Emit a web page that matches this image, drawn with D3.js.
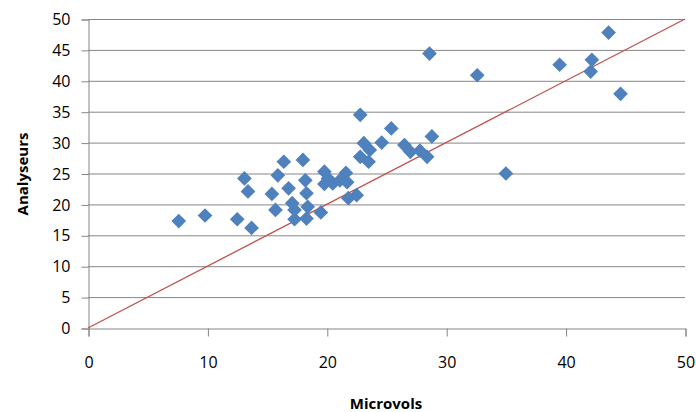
<!DOCTYPE html>
<html>
<head>
<meta charset="utf-8">
<script src="https://cdn.jsdelivr.net/npm/d3@7"></script>
<style>
  body { margin: 0; background: #fff; }
  text { font-family: "Open Sans", "Liberation Sans", sans-serif; fill: #000; }
</style>
</head>
<body>
<div id="chart"></div>
<script>
var width = 696;
var height = 412;
var margin = { top: 19, right: 11, bottom: 84, left: 88 };

// Microvols (x) vs Analyseurs (y)
var microvols = [7.6, 9.8, 12.5, 13.7, 13.1, 13.4, 15.4, 15.7, 15.9, 16.4,
                 16.8, 17.1, 17.3, 17.3, 18.0, 18.2, 18.3, 18.4, 18.3, 19.5,
                 19.8, 20.1, 19.8, 20.5, 21.1, 21.6, 21.7, 21.8, 22.5, 22.8,
                 25.4, 28.8, 23.1, 24.6, 26.5, 27.0, 27.8, 28.4, 23.6, 22.8,
                 23.5, 28.6, 32.6, 39.5, 42.2, 42.1, 43.6, 44.6, 35.0];
var analyseurs = [17.3, 18.2, 17.6, 16.2, 24.2, 22.1, 21.7, 19.1, 24.7, 26.9,
                  22.6, 20.2, 19.1, 17.6, 27.2, 23.9, 21.8, 19.6, 17.7, 18.7,
                  25.3, 24.2, 23.3, 23.4, 23.9, 25.1, 23.6, 21.0, 21.5, 34.5,
                  32.3, 31.0, 29.9, 30.0, 29.6, 28.5, 28.7, 27.7, 28.8, 27.7,
                  26.9, 44.4, 40.9, 42.6, 43.4, 41.5, 47.8, 37.9, 25.0];
var ticks = [0, 5, 10, 15, 20, 25, 30, 35, 40, 45, 50];
var xTicks = [0, 10, 20, 30, 40, 50];

var points = microvols.map((m, i) => ({ x: m, y: analyseurs[i] }));

var w = width - margin.left - margin.right;
var h = height - margin.top - margin.bottom;

var svg = d3.select("#chart")
            .append("svg")
            .attr("width", width)
            .attr("height", height);

var canvas = svg.append("g")
                .attr("transform", "translate(" + margin.left + "," + margin.top + ")");

var xScale = d3.scaleLinear().domain([0, 50]).range([0, w]);
var yScale = d3.scaleLinear().domain([0, 50]).range([h, 0]);

// horizontal gridlines
canvas.selectAll(".grid")
    .data(ticks.filter(t => t > 0))
    .enter().append("line")
    .attr("x1", 0)
    .attr("x2", w)
    .attr("y1", d => yScale(d) + 0.5)
    .attr("y2", d => yScale(d) + 0.5)
    .attr("stroke", "#868686")
    .attr("stroke-width", 1);

var yAxis = d3.axisLeft(yScale).tickValues(ticks).tickSize(7).tickPadding(11);
var xAxis = d3.axisBottom(xScale).tickValues(xTicks).tickSize(8).tickPadding(20);

var gy = canvas.append("g").attr("transform", "translate(0.5,0.5)").call(yAxis);
var gx = canvas.append("g").attr("transform", `translate(0.5, ${h + 0.5})`).call(xAxis);

[gx, gy].forEach(g => {
    g.select(".domain").attr("stroke", "#868686");
    g.selectAll(".tick line").attr("stroke", "#868686");
    g.selectAll(".tick text")
        .style("font-family", "'Open Sans', 'Liberation Sans', sans-serif")
        .style("font-size", "16px")
        .attr("fill", "#000");
});

// y = x reference line
canvas.append("line")
    .attr("x1", xScale(0))
    .attr("y1", yScale(0))
    .attr("x2", xScale(50))
    .attr("y2", yScale(50))
    .attr("stroke", "#C0504D")
    .attr("stroke-width", 1.3);

var diamond = d3.symbol().type(d3.symbolSquare).size(108);

canvas.selectAll(".pt")
    .data(points)
    .enter().append("path")
    .attr("d", diamond)
    .attr("transform", d => `translate(${xScale(d.x)},${yScale(d.y)}) rotate(45)`)
    .attr("fill", "#4F81BD");

svg.append("text")
    .attr("text-anchor", "middle")
    .attr("x", margin.left + w / 2 - 0.5)
    .attr("y", 409)
    .style("font-size", "15px")
    .style("font-weight", "bold")
    .text("Microvols");

svg.append("text")
    .attr("text-anchor", "middle")
    .attr("transform", "rotate(-90)")
    .attr("x", -174)
    .attr("y", 28)
    .style("font-size", "15px")
    .style("font-weight", "bold")
    .text("Analyseurs");
</script>
</body>
</html>
